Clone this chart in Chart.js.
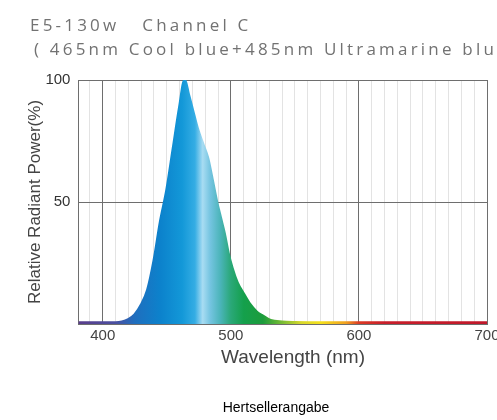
<!DOCTYPE html>
<html>
<head>
<meta charset="utf-8">
<script src="https://cdn.jsdelivr.net/npm/chart.js@4/dist/chart.umd.min.js"></script>
<style>
  html, body { margin: 0; padding: 0; background: #fff; overflow: hidden; }
  #wrap { position: relative; width: 520px; height: 420px; }
</style>
</head>
<body>
<div id="wrap"><canvas id="chart"></canvas></div>
<script>
// texts
const headerLines = ['E5-130w   Channel C', '( 465nm Cool blue+485nm Ultramarine blue )'];
const xTitle = 'Wavelength (nm)';
const yTitle = 'Relative Radiant Power(%)';
const footer = 'Hertsellerangabe';

// tick labels
const xTicks = [400, 500, 600, 700];
const yTicks = [50, 100];

// spectrum
const wavelengths = [381, 390, 400, 410, 415, 420, 425, 430, 435, 440, 445, 450, 455, 460, 464, 467, 470, 474, 478, 482, 485, 489, 492, 495, 498, 501, 505, 510, 515, 520, 525, 531, 540, 550, 575, 600, 650, 700];
const power = [0.5, 0.5, 0.5, 0.5, 0.8, 1.8, 3.8, 7.8, 14, 26, 42, 55, 72, 89, 100, 94, 88, 80, 74, 68, 60.5, 50, 43.5, 37, 29, 23, 17, 12.3, 8, 5, 3.3, 1.5, 0.8, 0.6, 0.5, 0.5, 0.5, 0.5];

// colour of light by wavelength
const spectrum = [
  [380, '#5a3d8a'], [410, '#4a4fa0'], [425, '#1f6ebe'], [445, '#0c82cc'],
  [462, '#1398d8'], [472, '#35ade4'], [478, '#a8dcf2'], [484, '#74c4e0'],
  [492, '#4ab4b8'], [500, '#2aa878'], [510, '#14a04c'], [525, '#1c9c3c'],
  [540, '#78bc34'], [555, '#d8d82c'], [570, '#f4e01c'], [590, '#f0a020'],
  [600, '#dc3a24'], [620, '#c81e2a'], [700, '#c0182a']
];

function spectrumGradient(chart) {
  const {ctx, chartArea, scales} = chart;
  if (!chartArea) return '#1a8ad0';
  const x0 = scales.x.getPixelForValue(380);
  const x1 = scales.x.getPixelForValue(700);
  const g = ctx.createLinearGradient(x0, 0, x1, 0);
  spectrum.forEach(([nm, c]) => g.addColorStop((nm - 380) / 320, c));
  return g;
}

const captions = {
  id: 'captions',
  afterDraw(chart) {
    const ctx = chart.ctx;
    ctx.save();
    ctx.fillStyle = '#727272';
    ctx.font = '17px "Open Sans"';
    ctx.letterSpacing = '3.2px';
    ctx.textBaseline = 'alphabetic';
    ctx.fillText(headerLines[0], 30, 31);
    ctx.fillText(headerLines[1], 34, 55);
    ctx.letterSpacing = '0px';
    ctx.textAlign = 'center';
    ctx.textBaseline = 'middle';
    ctx.fillStyle = '#444';
    ctx.font = '19px "Liberation Sans", Arial';
    ctx.fillText(xTitle, 293, 358);
    ctx.fillStyle = '#000';
    ctx.font = '14px "Liberation Sans", Arial';
    ctx.fillText(footer, 276, 408);
    ctx.restore();
  }
};

const major = '#6e6e6e';
const minor = '#e3e3e3';

new Chart(document.getElementById('chart'), {
  type: 'line',
  data: {
    datasets: [{
      data: wavelengths.map((w, i) => ({x: w, y: power[i]})),
      fill: 'origin',
      backgroundColor: (c) => spectrumGradient(c.chart),
      borderColor: (c) => spectrumGradient(c.chart),
      borderWidth: 3,
      pointRadius: 0,
      cubicInterpolationMode: 'monotone'
    }]
  },
  options: {
    responsive: true,
    maintainAspectRatio: false,
    animation: false,
    layout: { padding: { top: 80, left: 25, right: 33, bottom: 72 } },
    plugins: { legend: { display: false }, tooltip: { enabled: false } },
    scales: {
      x: {
        type: 'linear',
        min: 381,
        max: 700,
        border: { color: major },
        grid: {
          drawTicks: false,
          color: (c) => xTicks.includes(c.tick.value) ? major : minor
        },
        ticks: {
          stepSize: 10,
          includeBounds: false,
          autoSkip: false,
          maxRotation: 0,
          padding: 3,
          color: '#444',
          font: { family: '"Liberation Sans", Arial', size: 15 },
          callback: (v) => xTicks.includes(v) ? String(v) : ''
        }
      },
      y: {
        min: 0,
        max: 100,
        border: { color: major },
        grid: {
          drawTicks: false,
          color: (c) => yTicks.includes(c.tick.value) ? major : 'rgba(0,0,0,0)'
        },
        ticks: {
          stepSize: 50,
          padding: 8,
          color: '#333',
          font: { family: '"Liberation Sans", Arial', size: 15 },
          callback: (v) => yTicks.includes(v) ? String(v) : ''
        },
        title: {
          display: true,
          text: yTitle,
          color: '#444',
          padding: { top: 0, bottom: -8 },
          font: { family: '"Liberation Sans", Arial', size: 17 }
        }
      }
    }
  },
  plugins: [captions]
});
</script>
</body>
</html>
